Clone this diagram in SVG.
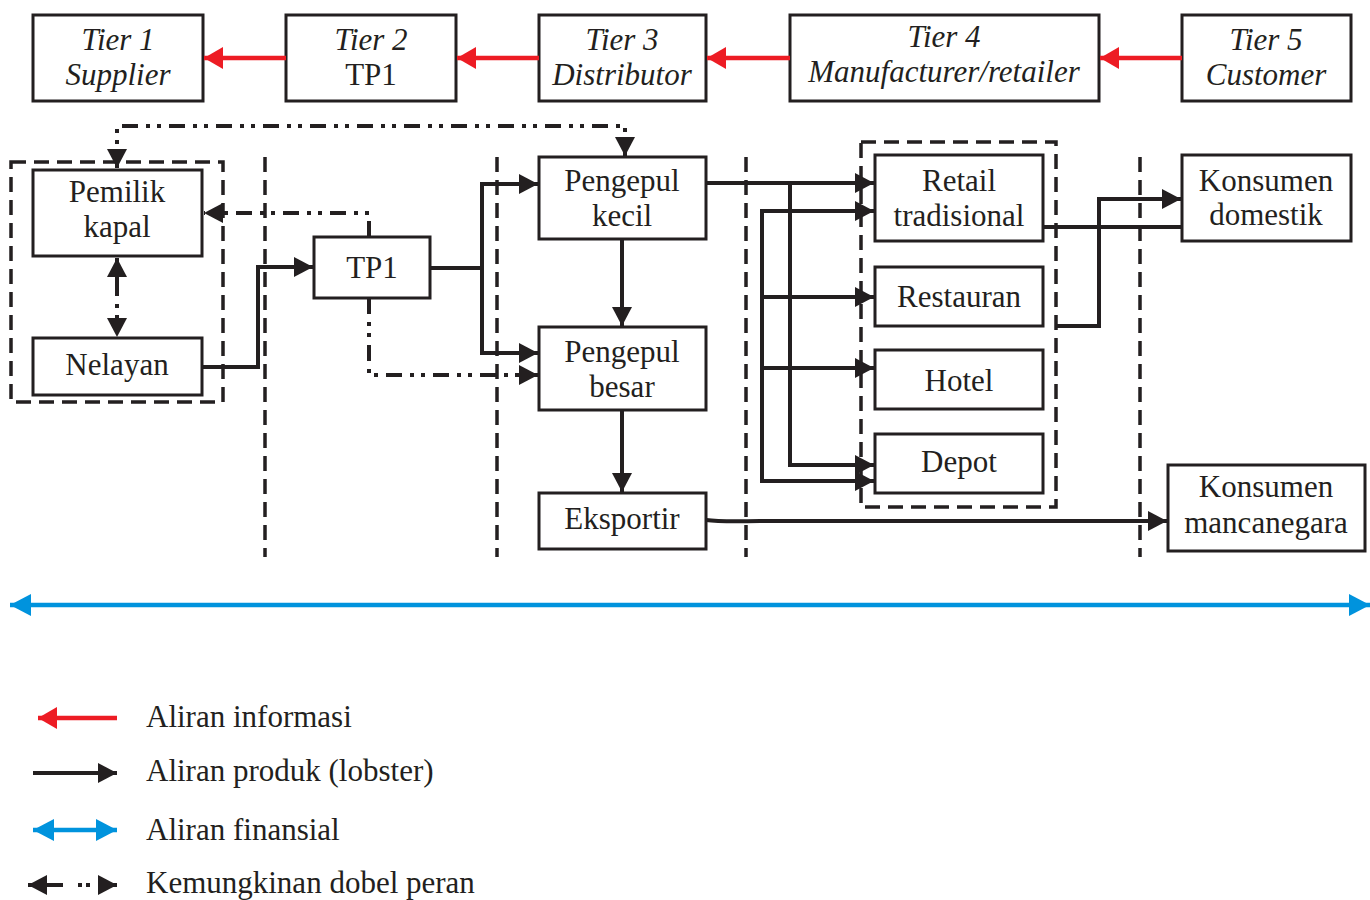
<svg xmlns="http://www.w3.org/2000/svg" width="1370" height="900" viewBox="0 0 1370 900">
<defs>
<style>
.box{fill:#fff;stroke:#231f20;stroke-width:3}
.t{font-family:"Liberation Serif","Times New Roman",serif;font-size:31px;fill:#231f20;text-anchor:middle}
.ti{font-style:italic}
.lg{text-anchor:start}
.c{fill:none;stroke:#231f20;stroke-width:4}
.red{fill:none;stroke:#ed1c24;stroke-width:4.5}
.blue{fill:none;stroke:#0093dd;stroke-width:4.5}
.dash{fill:none;stroke:#231f20;stroke-width:3.5;stroke-dasharray:15 8}
.dd{fill:none;stroke:#231f20;stroke-width:4;stroke-dasharray:16 8 4 7 4 8}
</style>
<marker id="ah" markerUnits="userSpaceOnUse" markerWidth="22" markerHeight="20" refX="19" refY="10" orient="auto-start-reverse"><path d="M0,0 L19,10 L0,20 z" fill="#231f20"/></marker>
<marker id="ahr" markerUnits="userSpaceOnUse" markerWidth="22" markerHeight="22" refX="19" refY="11" orient="auto-start-reverse"><path d="M0,0 L19,11 L0,22 z" fill="#ed1c24"/></marker>
<marker id="ahb" markerUnits="userSpaceOnUse" markerWidth="24" markerHeight="22" refX="21" refY="11" orient="auto-start-reverse"><path d="M0,0 L21,11 L0,22 z" fill="#0093dd"/></marker>
</defs>
<rect width="1370" height="900" fill="#fff"/>

<g id="tiers">
<g id="tier1"><rect class="box" x="33" y="15" width="170" height="86"/><text class="t ti" x="118" y="50">Tier 1</text><text class="t ti" x="118" y="85">Supplier</text></g>
<g id="tier2"><rect class="box" x="286" y="15" width="170" height="86"/><text class="t ti" x="371" y="50">Tier 2</text><text class="t" x="371" y="85">TP1</text></g>
<g id="tier3"><rect class="box" x="539" y="15" width="167" height="86"/><text class="t ti" x="622" y="50">Tier 3</text><text class="t ti" x="622" y="85">Distributor</text></g>
<g id="tier4"><rect class="box" x="790" y="15" width="309" height="86"/><text class="t ti" x="944" y="47">Tier 4</text><text class="t ti" x="944" y="82">Manufacturer/retailer</text></g>
<g id="tier5"><rect class="box" x="1182" y="15" width="169" height="86"/><text class="t ti" x="1266" y="50">Tier 5</text><text class="t ti" x="1266" y="85">Customer</text></g>
</g>

<g id="dividers">
<rect class="dash" x="11" y="162" width="212" height="240"/>
<rect class="dash" x="861" y="142" width="195" height="365"/>
<line class="dash" x1="265" y1="157" x2="265" y2="557"/>
<line class="dash" x1="497" y1="157" x2="497" y2="557"/>
<line class="dash" x1="746" y1="157" x2="746" y2="557"/>
<line class="dash" x1="1140" y1="157" x2="1140" y2="557"/>
</g>

<g id="connectors">
<line class="red" x1="286" y1="58" x2="204" y2="58" marker-end="url(#ahr)"/>
<line class="red" x1="539" y1="58" x2="457" y2="58" marker-end="url(#ahr)"/>
<line class="red" x1="790" y1="58" x2="707" y2="58" marker-end="url(#ahr)"/>
<line class="red" x1="1182" y1="58" x2="1100" y2="58" marker-end="url(#ahr)"/>

<path class="dd" d="M117,168 V126 H625 V156" marker-start="url(#ah)" marker-end="url(#ah)"/>
<path class="dd" d="M369,237 V213 H204" marker-end="url(#ah)"/>
<path class="dd" d="M369,298 V375 H538" marker-end="url(#ah)"/>
<line class="c" x1="117" y1="258" x2="117" y2="296" marker-start="url(#ah)"/>
<line class="c" x1="117" y1="304" x2="117" y2="337" stroke-dasharray="4 7" marker-end="url(#ah)"/>

<path class="c" d="M202,367 H258 V267 H313" marker-end="url(#ah)"/>
<path class="c" d="M430,268 H482 V184 H538" marker-end="url(#ah)"/>
<path class="c" d="M482,268 V353 H538" marker-end="url(#ah)"/>
<line class="c" x1="622" y1="239" x2="622" y2="326" marker-end="url(#ah)"/>
<line class="c" x1="622" y1="410" x2="622" y2="492" marker-end="url(#ah)"/>
<line class="c" x1="706" y1="183" x2="874" y2="183" marker-end="url(#ah)"/>
<path class="c" d="M790,183 V465 H874" marker-end="url(#ah)"/>
<path class="c" d="M874,211 H762 V481 H874" marker-start="url(#ah)" marker-end="url(#ah)"/>
<line class="c" x1="762" y1="297" x2="874" y2="297" marker-end="url(#ah)"/>
<line class="c" x1="762" y1="368" x2="874" y2="368" marker-end="url(#ah)"/>
<line class="c" x1="1043" y1="227" x2="1182" y2="227"/>
<path class="c" d="M1057,326 H1099 V199 H1181" marker-end="url(#ah)"/>
<path class="c" d="M706,520 Q720,522 760,521 L1167,521" marker-end="url(#ah)"/>

<line class="blue" x1="10" y1="605" x2="1370" y2="605" marker-start="url(#ahb)" marker-end="url(#ahb)"/>
</g>

<g id="pemilik"><rect class="box" x="33" y="170" width="169" height="86"/><text class="t" x="117" y="202">Pemilik</text><text class="t" x="117" y="237">kapal</text></g>
<g id="nelayan"><rect class="box" x="33" y="338" width="169" height="57"/><text class="t" x="117" y="375">Nelayan</text></g>
<g id="tp1"><rect class="box" x="314" y="237" width="116" height="61"/><text class="t" x="372" y="278">TP1</text></g>
<g id="pengepul-kecil"><rect class="box" x="539" y="157" width="167" height="82"/><text class="t" x="622" y="191">Pengepul</text><text class="t" x="622" y="226">kecil</text></g>
<g id="pengepul-besar"><rect class="box" x="539" y="327" width="167" height="83"/><text class="t" x="622" y="362">Pengepul</text><text class="t" x="622" y="397">besar</text></g>
<g id="eksportir"><rect class="box" x="539" y="493" width="167" height="56"/><text class="t" x="622" y="529">Eksportir</text></g>
<g id="retail"><rect class="box" x="875" y="155" width="168" height="86"/><text class="t" x="959" y="191">Retail</text><text class="t" x="959" y="226">tradisional</text></g>
<g id="restauran"><rect class="box" x="875" y="267" width="168" height="59"/><text class="t" x="959" y="307">Restauran</text></g>
<g id="hotel"><rect class="box" x="875" y="350" width="168" height="59"/><text class="t" x="959" y="391">Hotel</text></g>
<g id="depot"><rect class="box" x="875" y="434" width="168" height="59"/><text class="t" x="959" y="472">Depot</text></g>
<g id="konsumen-domestik"><rect class="box" x="1182" y="155" width="169" height="86"/><text class="t" x="1266" y="191">Konsumen</text><text class="t" x="1266" y="225">domestik</text></g>
<g id="konsumen-mancanegara"><rect class="box" x="1168" y="465" width="197" height="86"/><text class="t" x="1266" y="497">Konsumen</text><text class="t" x="1266" y="533">mancanegara</text></g>

<g id="legend">
<line class="red" x1="117" y1="718" x2="38" y2="718" marker-end="url(#ahr)"/>
<text class="t lg" x="146" y="727">Aliran informasi</text>
<line class="c" x1="33" y1="773" x2="117" y2="773" marker-end="url(#ah)"/>
<text class="t lg" x="146" y="781">Aliran produk (lobster)</text>
<line class="blue" x1="33" y1="830" x2="117" y2="830" marker-start="url(#ahb)" marker-end="url(#ahb)"/>
<text class="t lg" x="146" y="840">Aliran finansial</text>
<line class="c" x1="28" y1="885" x2="63" y2="885" marker-start="url(#ah)"/>
<line class="c" x1="78" y1="885" x2="90" y2="885" stroke-dasharray="4 4"/>
<line class="c" x1="98" y1="885" x2="117" y2="885" marker-end="url(#ah)"/>
<text class="t lg" x="146" y="893">Kemungkinan dobel peran</text>
</g>
</svg>
